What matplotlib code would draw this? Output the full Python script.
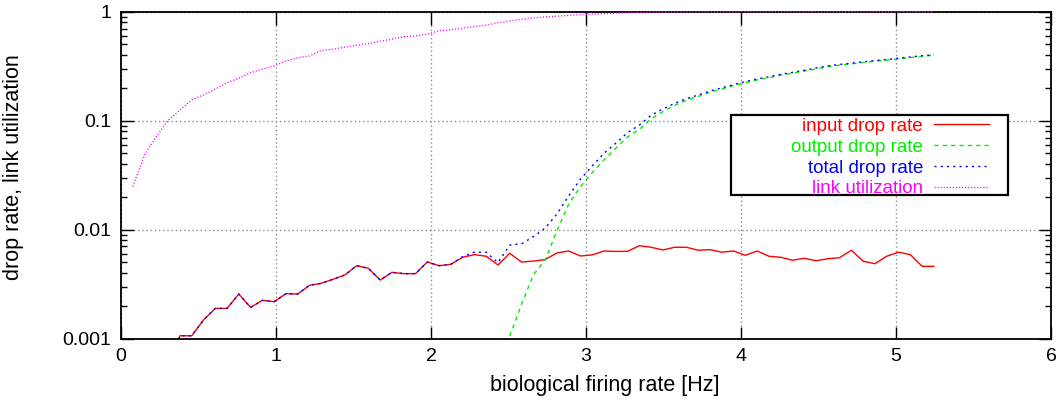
import numpy as np
import matplotlib
matplotlib.use("Agg")
import matplotlib.pyplot as plt
from matplotlib.patches import Rectangle

plt.rcParams['font.family'] = ['Liberation Sans', 'DejaVu Sans']

nan = np.nan

# firing rate samples [Hz]
rate = [0.076, 0.152, 0.228, 0.304, 0.38, 0.456, 0.532, 0.608, 0.684, 0.76,
        0.836, 0.912, 0.988, 1.064, 1.14, 1.216, 1.292, 1.368, 1.444, 1.52,
        1.596, 1.672, 1.748, 1.824, 1.9, 1.976, 2.052, 2.128, 2.204, 2.28,
        2.356, 2.432, 2.508, 2.584, 2.66, 2.736, 2.812, 2.888, 2.964, 3.04,
        3.116, 3.192, 3.268, 3.344, 3.42, 3.496, 3.572, 3.648, 3.724, 3.8,
        3.876, 3.952, 4.028, 4.104, 4.18, 4.256, 4.332, 4.408, 4.484, 4.56,
        4.636, 4.712, 4.788, 4.864, 4.94, 5.016, 5.092, 5.168, 5.244]

input_drop = [nan, nan, nan, 0.00053, 0.00106, 0.00106, 0.00148, 0.00189, 0.00189, 0.00256,
              0.00193, 0.00224, 0.00218, 0.00258, 0.00256, 0.00308, 0.00321, 0.0035, 0.00383, 0.00466,
              0.00441, 0.00344, 0.00405, 0.00394, 0.00394, 0.00504, 0.00466, 0.0048, 0.00557, 0.00589,
              0.00569, 0.00473, 0.00606, 0.00503, 0.00514, 0.0053, 0.0061, 0.00636, 0.00572, 0.00586,
              0.00636, 0.0063, 0.00632, 0.00711, 0.00688, 0.0065, 0.00688, 0.00688, 0.00646, 0.00654,
              0.0062, 0.00636, 0.00581, 0.00636, 0.00569, 0.00557, 0.00523, 0.00545, 0.00518, 0.0054,
              0.00552, 0.00646, 0.00512, 0.00486, 0.00569, 0.0062, 0.00589, 0.0046, 0.0046]

output_drop = [nan, nan, nan, nan, nan, nan, nan, nan, nan, nan,
               nan, nan, nan, nan, nan, nan, nan, nan, nan, nan,
               nan, nan, nan, nan, nan, nan, nan, nan, nan, 0.0002,
               0.0004, 0.0007, 0.00105, 0.00207, 0.00383, 0.00526, 0.0097, 0.0171, 0.0248, 0.0333,
               0.0436, 0.0558, 0.071, 0.083, 0.104, 0.121, 0.138, 0.154, 0.167, 0.182,
               0.195, 0.21, 0.223, 0.236, 0.248, 0.261, 0.272, 0.285, 0.298, 0.313,
               0.323, 0.332, 0.341, 0.351, 0.359, 0.369, 0.379, 0.39, 0.398]

total_drop = [nan, nan, nan, 0.00053, 0.00106, 0.00106, 0.00148, 0.00189, 0.00189, 0.00256,
              0.00193, 0.00224, 0.00218, 0.00258, 0.00256, 0.00308, 0.00321, 0.0035, 0.00383, 0.00466,
              0.00441, 0.00344, 0.00405, 0.00394, 0.00394, 0.00504, 0.00466, 0.0048, 0.00564, 0.0062,
              0.0062, 0.00497, 0.00722, 0.0074, 0.0086, 0.0103, 0.0139, 0.0204, 0.029, 0.0384,
              0.0502, 0.062, 0.0776, 0.091, 0.112, 0.128, 0.144, 0.159, 0.172, 0.187,
              0.2, 0.214, 0.228, 0.241, 0.253, 0.266, 0.277, 0.29, 0.304, 0.318,
              0.328, 0.337, 0.346, 0.356, 0.364, 0.374, 0.384, 0.394, 0.402]

link_util = [0.0248, 0.0484, 0.0713, 0.101, 0.125, 0.155, 0.172, 0.195, 0.223, 0.245,
             0.276, 0.297, 0.318, 0.353, 0.378, 0.393, 0.44, 0.453, 0.472, 0.492,
             0.509, 0.536, 0.559, 0.59, 0.599, 0.621, 0.67, 0.68, 0.706, 0.73,
             0.752, 0.79, 0.82, 0.85, 0.875, 0.895, 0.91, 0.925, 0.94, 0.95,
             0.96, 0.97, 0.978, 0.985, 0.99, 0.994, 0.997, 0.998, 0.999, 1.0,
             1.0, 1.0, 1.0, 1.0, 1.0, 1.0, 1.0, 1.0, 1.0, 1.0,
             1.0, 1.0, 1.0, 1.0, 1.0, 1.0, 1.0, 1.0, 1.0]

labels = ['input drop rate', 'output drop rate', 'total drop rate', 'link utilization']
colors = ['#ff0000', '#00ee00', '#0000ff', '#ff00ff']

fig = plt.figure(figsize=(10.58, 4.03), dpi=100)
ax = fig.add_axes([0.1144, 0.160, 0.879, 0.811])

ax.plot(rate, input_drop, color=colors[0], lw=1.0, label=labels[0])
ax.plot(rate, output_drop, color=colors[1], lw=1.0, dashes=(3, 3), label=labels[1])
ax.plot(rate, total_drop, color=colors[2], lw=1.0, dashes=(1.5, 3), label=labels[2])
ax.plot(rate, link_util, color=colors[3], lw=1.0, dashes=(0.8, 1.4), label=labels[3],
        zorder=3, clip_on=False)

ax.set_yscale('log')
ax.set_xlim(0, 6)
ax.set_ylim(0.001, 1)
ax.set_xticks([0, 1, 2, 3, 4, 5, 6])
ax.set_xticklabels(['0', '1', '2', '3', '4', '5', '6'])
ax.set_yticks([0.001, 0.01, 0.1, 1])
ax.set_yticklabels(['0.001', '0.01', '0.1', '1'])

ax.grid(True, which='major', color='0.55', linestyle=(0, (1, 2)), lw=1.0)
ax.tick_params(which='both', direction='in', top=True, right=True, labelsize=14, width=1.0)
ax.tick_params(which='major', length=9, pad=7)
ax.tick_params(which='minor', length=4.5)
ax.tick_params(axis='x', which='minor', bottom=False, top=False)
for s in ax.spines.values():
    s.set_linewidth(1.3)

ax.set_xlabel('biological firing rate [Hz]', fontsize=15.5)
ax.xaxis.set_label_coords(0.52, -0.112)
ax.set_ylabel('drop rate, link utilization', fontsize=15.5)
ax.yaxis.set_label_coords(-0.104, 0.525)

# key box (gnuplot style, wider than its entries)
ax.add_patch(Rectangle((0.656, 0.439), 0.298, 0.245, transform=ax.transAxes,
                       facecolor='white', edgecolor='black', lw=1.6, zorder=4.5))
leg = ax.legend(loc='upper right', bbox_to_anchor=(0.938, 0.690), markerfirst=False,
                fontsize=13.5, handlelength=2.9, handletextpad=0.6, labelspacing=0.2,
                borderpad=0.25, frameon=False, borderaxespad=0)
for t, c in zip(leg.get_texts(), colors):
    t.set_color(c)

fig.savefig('out.png', dpi=100)
